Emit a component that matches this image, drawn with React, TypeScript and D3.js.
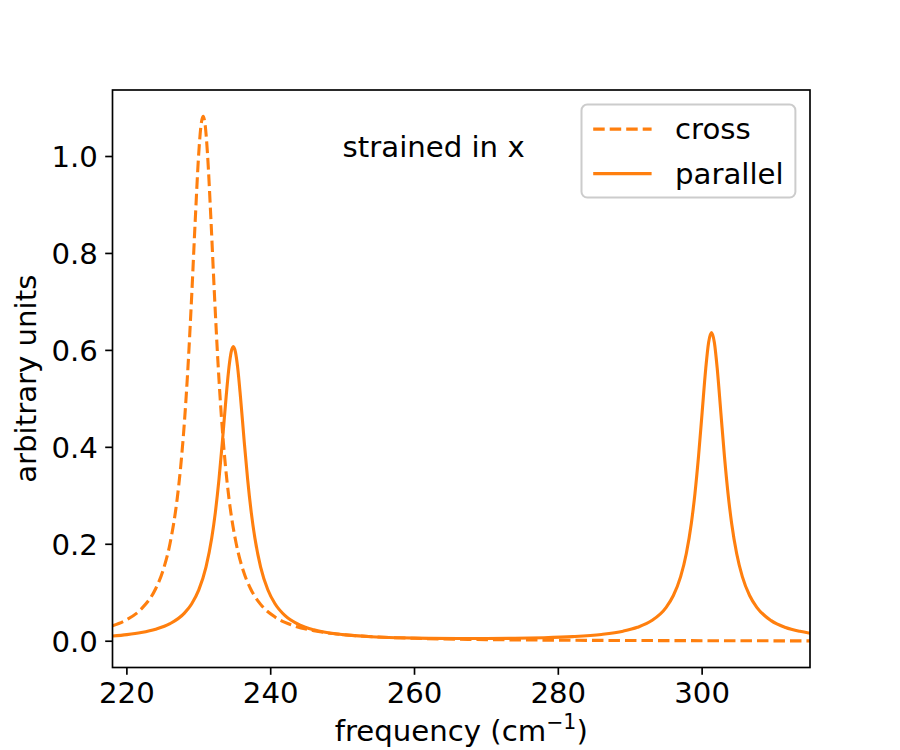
import React from "react";
import * as d3 from "d3";

const width = 900;
const height = 750;
const margin = { left: 112.5, right: 90, top: 90, bottom: 82.5 };

// cross polarisation spectrum
const crossFreq = [
  218, 220, 222, 224, 225, 226, 227, 227.5, 228, 228.5, 229, 229.5, 230, 230.3,
  230.6, 230.9, 231.2, 231.7, 232.2, 232.7, 233.2, 233.7, 234.2, 235.2, 236.2,
  237.2, 238.6, 240.6, 243, 246, 250, 255, 260, 270, 280, 290, 300, 315,
];
const crossValues = [
  0.032, 0.0447, 0.0665, 0.1083, 0.1448, 0.2016, 0.2945, 0.3628, 0.4519, 0.5667,
  0.7084, 0.8664, 1.0081, 1.0633, 1.083, 1.0633, 1.0081, 0.8664, 0.7084, 0.5667,
  0.4519, 0.3628, 0.2945, 0.2016, 0.1448, 0.1083, 0.0761, 0.05, 0.0331, 0.0217,
  0.0138, 0.0087, 0.006, 0.0034, 0.0021, 0.0015, 0.0011, 0.0007,
];

// parallel polarisation spectrum
const parallelFreq = [
  218, 220, 222, 224, 226, 228, 229, 230, 231, 231.8, 232.3, 232.8, 233.3, 233.8,
  234.2, 234.5, 234.8, 235.1, 235.4, 235.8, 236.3, 236.8, 237.3, 237.8, 238.6,
  239.6, 240.6, 242, 244, 246, 248, 250, 254, 258, 262, 266, 270, 274, 278, 282,
  286, 289, 291, 293, 295, 296, 297, 297.8, 298.5, 299, 299.5, 300, 300.5, 300.9,
  301.3, 301.7, 302.1, 302.6, 303.1, 303.6, 304.1, 304.8, 305.6, 306.6, 307.6,
  309.6, 311.6, 313.6, 315,
];
const parallelValues = [
  0.0107, 0.0136, 0.0179, 0.0247, 0.0362, 0.058, 0.0769, 0.1059, 0.1529, 0.2128,
  0.2654, 0.3329, 0.415, 0.5036, 0.5655, 0.5965, 0.6077, 0.5965, 0.5655, 0.5036,
  0.415, 0.3329, 0.2654, 0.2128, 0.1529, 0.1062, 0.0772, 0.0526, 0.0337, 0.0235,
  0.0174, 0.0136, 0.0092, 0.0071, 0.0059, 0.0055, 0.0055, 0.006, 0.0072, 0.0095,
  0.014, 0.0207, 0.0287, 0.0426, 0.07, 0.0943, 0.1327, 0.1809, 0.2435, 0.3046,
  0.3817, 0.4722, 0.5625, 0.6164, 0.6368, 0.6164, 0.5625, 0.4722, 0.3817, 0.3046,
  0.2435, 0.1809, 0.1327, 0.0943, 0.0699, 0.0425, 0.0284, 0.0204, 0.0165,
];

const xTicks = [220, 240, 260, 280, 300];
const yTicks = [0.0, 0.2, 0.4, 0.6, 0.8, 1.0];
const seriesNames = ["cross", "parallel"];

const orange = "#ff7f0e";
const fontSize = 29.2;
const font = "DejaVu Sans, sans-serif";
const tickLen = 7.3;
const tickPad = 7.3;

export default function App() {
  const x = d3
    .scaleLinear()
    .domain([218, 315])
    .range([margin.left, width - margin.right]);
  const y = d3
    .scaleLinear()
    .domain([-0.0542, 1.1372])
    .range([height - margin.bottom, margin.top]);

  const line = d3
    .line<[number, number]>()
    .x((d) => x(d[0]))
    .y((d) => y(d[1]))
    .curve(d3.curveMonotoneX);

  const crossPath = line(crossFreq.map((f, i) => [f, crossValues[i]]));
  const parallelPath = line(parallelFreq.map((f, i) => [f, parallelValues[i]]));

  const x0 = margin.left;
  const x1 = width - margin.right;
  const y0 = margin.top;
  const y1 = height - margin.bottom;
  const fmtY = d3.format(".1f");

  // legend box geometry (upper right)
  const legW = 213.9;
  const legH = 93;
  const legX = x1 - 14.6 - legW;
  const legY = y0 + 14.6;

  return (
    <svg
      width={width}
      height={height}
      style={{ position: "absolute", left: 0, top: 0, background: "#fff" }}
      fontFamily={font}
    >
      <defs>
        <clipPath id="plot-area">
          <rect x={x0} y={y0} width={x1 - x0} height={y1 - y0} />
        </clipPath>
      </defs>

      <g clipPath="url(#plot-area)" fill="none" strokeWidth={3.1} strokeLinejoin="round">
        <path d={crossPath ?? ""} stroke={orange} strokeDasharray="11.5,5" />
        <path d={parallelPath ?? ""} stroke={orange} strokeLinecap="square" />
      </g>

      {/* x axis ticks */}
      {xTicks.map((t) => (
        <g key={"x" + t}>
          <line x1={x(t)} x2={x(t)} y1={y1} y2={y1 + tickLen} stroke="#000" strokeWidth={1.67} />
          <text
            x={x(t)}
            y={y1 + tickLen + tickPad + 21.3}
            textAnchor="middle"
            fontSize={fontSize}
          >
            {t}
          </text>
        </g>
      ))}

      {/* y axis ticks */}
      {yTicks.map((t) => (
        <g key={"y" + t}>
          <line x1={x0 - tickLen} x2={x0} y1={y(t)} y2={y(t)} stroke="#000" strokeWidth={1.67} />
          <text
            x={x0 - tickLen - tickPad}
            y={y(t) + 10.6}
            textAnchor="end"
            fontSize={fontSize}
          >
            {fmtY(t)}
          </text>
        </g>
      ))}

      <rect
        x={x0}
        y={y0}
        width={x1 - x0}
        height={y1 - y0}
        fill="none"
        stroke="#000"
        strokeWidth={1.67}
      />

      <text x={x(250)} y={y(1.0)} fontSize={fontSize}>
        strained in x
      </text>

      {/* legend */}
      <rect
        x={legX}
        y={legY}
        width={legW}
        height={legH}
        rx={5.8}
        fill="#fff"
        fillOpacity={0.8}
        stroke="#cccccc"
        strokeWidth={2}
      />
      {seriesNames.map((name, i) => {
        const cy = legY + 24.5 + i * 44.5;
        return (
          <g key={name}>
            <line
              x1={legX + 11.7}
              x2={legX + 11.7 + 58.4}
              y1={cy}
              y2={cy}
              stroke={orange}
              strokeWidth={3.1}
              strokeDasharray={i === 0 ? "11.5,5" : undefined}
            />
            <text x={legX + 11.7 + 58.4 + 23.4} y={cy + 10.2} fontSize={fontSize}>
              {name}
            </text>
          </g>
        );
      })}

      {/* axis labels */}
      <text x={(x0 + x1) / 2} y={741} textAnchor="middle" fontSize={fontSize}>
        frequency (cm
        <tspan fontSize={fontSize * 0.7} dy={-12}>
          −1
        </tspan>
        <tspan dy={12}>)</tspan>
      </text>
      <text
        transform={`translate(36, ${(y0 + y1) / 2}) rotate(-90)`}
        textAnchor="middle"
        fontSize={fontSize}
      >
        arbitrary units
      </text>
    </svg>
  );
}
